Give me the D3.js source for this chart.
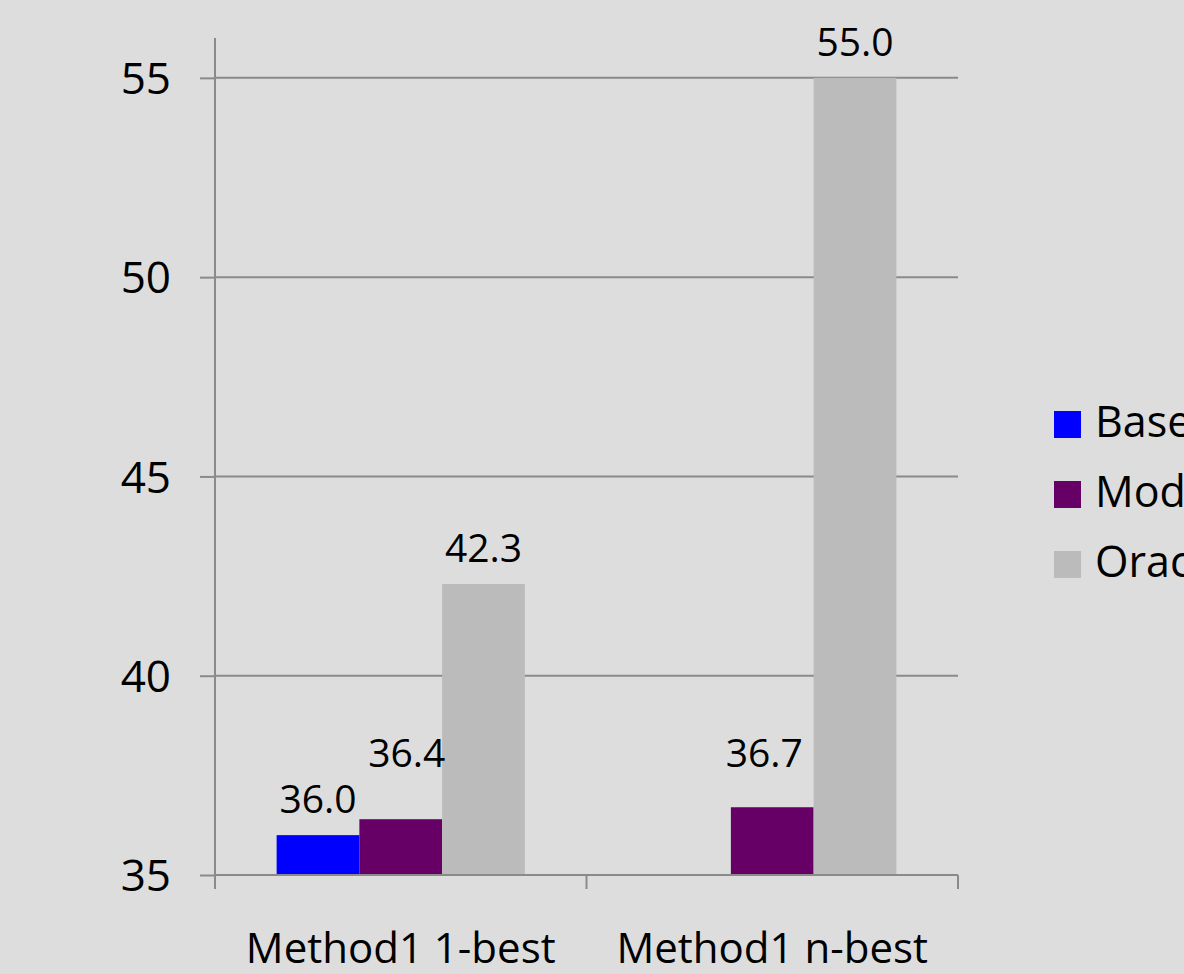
<!DOCTYPE html>
<html>
<head>
<meta charset="utf-8">
<script src="https://cdn.jsdelivr.net/npm/d3@7"></script>
<style>
  html, body { margin: 0; padding: 0; background: #dddddd; overflow: hidden; }
  svg { display: block; }
  text { font-family: "Open Sans", sans-serif; fill: #000; }
</style>
</head>
<body>
<svg id="chart" width="1184" height="974"></svg>
<script>
const categories = ["Method1 1-best", "Method1 n-best"];
const seriesNames = ["Baseline", "Model", "Oracle"];
const baselineValues = [36.0, null];
const modelValues = [36.4, 36.7];
const oracleValues = [42.3, 55.0];
const yTicks = [35, 40, 45, 50, 55];
const seriesColors = ["#0000ff", "#660066", "#bbbbbb"];

const seriesValues = [baselineValues, modelValues, oracleValues];

const svg = d3.select("#chart");
svg.append("rect").attr("width", 1184).attr("height", 974).attr("fill", "#dddddd");

const plotLeft = 215, plotRight = 958, plotBottom = 875, plotTop = 38;
const axisColor = "#8a8a8a";

const y = d3.scaleLinear().domain([35, 56]).range([plotBottom, plotTop]);
const x0 = d3.scaleBand().domain(categories).range([plotLeft, plotRight]).paddingInner(0).paddingOuter(0);
const x1 = d3.scaleBand().domain(seriesNames).range([0, x0.bandwidth()]).paddingInner(0).paddingOuter(0.745);

// gridlines
svg.append("g")
  .selectAll("line")
  .data(yTicks.filter(t => t > 35))
  .join("line")
  .attr("x1", plotLeft).attr("x2", plotRight)
  .attr("y1", d => y(d)).attr("y2", d => y(d))
  .attr("stroke", axisColor).attr("stroke-width", 2);

// bars
const groups = svg.append("g")
  .selectAll("g")
  .data(categories)
  .join("g")
  .attr("transform", d => `translate(${x0(d)},0)`);

groups.selectAll("rect")
  .data((c, ci) => seriesNames.map((s, si) => ({ s, v: seriesValues[si][ci], color: seriesColors[si] })).filter(d => d.v != null))
  .join("rect")
  .attr("x", d => x1(d.s))
  .attr("width", x1.bandwidth())
  .attr("y", d => y(d.v))
  .attr("height", d => y(35) - y(d.v))
  .attr("fill", d => d.color);

// data labels: Model labels share a raised common baseline (as in the reference)
const modelLabelBaseline = y(d3.max(modelValues)) - 40;
const labelNudgeX = { "Method1 1-best|Model": 6, "Method1 n-best|Model": -8 };
groups.selectAll("text")
  .data((c, ci) => seriesNames.map((s, si) => ({ c, s, v: seriesValues[si][ci] })).filter(d => d.v != null))
  .join("text")
  .attr("x", d => x1(d.s) + x1.bandwidth() / 2 + (labelNudgeX[d.c + "|" + d.s] || 0))
  .attr("y", d => d.s === "Model" ? modelLabelBaseline : y(d.v) - 22)
  .attr("text-anchor", "middle")
  .attr("font-size", 39)
  .text(d => d.v.toFixed(1));

// y axis
const yAxis = d3.axisLeft(y).tickValues(yTicks).tickSize(15).tickPadding(29).tickFormat(d3.format("d"));
const yg = svg.append("g").attr("transform", `translate(${plotLeft},0)`).call(yAxis);
yg.select(".domain").remove();
yg.append("line").attr("x1", 0).attr("x2", 0).attr("y1", plotTop).attr("y2", plotBottom)
  .attr("stroke", axisColor).attr("stroke-width", 2);
yg.selectAll(".tick line").attr("stroke", axisColor).attr("stroke-width", 2);
yg.selectAll(".tick text").attr("font-size", 44).attr("font-family", "Open Sans, sans-serif").attr("fill", "#000").attr("dy", "0.36em");

// x axis
const xg = svg.append("g").attr("transform", `translate(0,${plotBottom})`);
xg.append("line").attr("x1", plotLeft).attr("x2", plotRight).attr("y1", 0).attr("y2", 0)
  .attr("stroke", axisColor).attr("stroke-width", 2);
const xTickPositions = categories.map(c => x0(c)).concat([x0(categories[categories.length - 1]) + x0.bandwidth()]);
xg.selectAll("line.xt")
  .data(xTickPositions)
  .join("line")
  .attr("class", "xt")
  .attr("x1", d => d).attr("x2", d => d)
  .attr("y1", 0).attr("y2", 14)
  .attr("stroke", axisColor).attr("stroke-width", 2);
xg.selectAll("text")
  .data(categories)
  .join("text")
  .attr("x", d => x0(d) + x0.bandwidth() / 2)
  .attr("y", 88)
  .attr("text-anchor", "middle")
  .attr("font-size", 42)
  .text(d => d);

// legend (extends past the right edge, as in the reference)
const legend = svg.append("g").attr("transform", "translate(1054,411)");
const li = legend.selectAll("g")
  .data(seriesNames)
  .join("g")
  .attr("transform", (d, i) => `translate(0,${i * 70})`);
li.append("rect").attr("width", 27).attr("height", 27).attr("fill", (d, i) => seriesColors[i]);
li.append("text").attr("x", 41).attr("y", 26).attr("font-size", 43).text(d => d);
</script>
</body>
</html>
